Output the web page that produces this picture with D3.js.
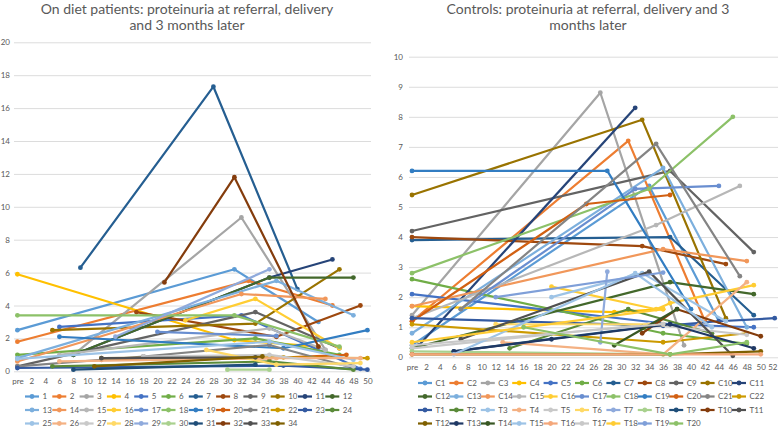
<!DOCTYPE html>
<html><head><meta charset="utf-8">
<script src="https://cdn.jsdelivr.net/npm/d3@7"></script>
<style>
html,body{margin:0;padding:0;background:#fff}
svg{display:block}
text{font-family:Lato,"Open Sans",sans-serif;fill:#595959}
</style></head><body>
<svg id="c" width="778" height="428"></svg>
<script>
const palette = ["#5B9BD5","#ED7D31","#A5A5A5","#FFC000","#4472C4","#70AD47","#255E91","#9E480E","#636363","#997300","#264478","#43682B","#7CAFDD","#F1975A","#B7B7B7","#FFCD33","#698ED0","#8CC168","#327DC2","#D26012","#848484","#CC9A00","#335AA1","#5A8A39","#9DC3E6","#F4B183","#C9C9C9","#FFD966","#8FAADC","#A9D18E","#1F4E79","#843C0C","#505050","#7F6000","#1F3864","#385723","#9DC3E6","#F4A77A","#C8C8C8","#FFCC33","#7F9FD8","#8CC168"];

const titleLeft = ["On diet patients: proteinuria at referral, delivery","and 3 months later"];
const titleRight = ["Controls: proteinuria at referral, delivery and 3","months later"];

const namesLeft = d3.range(1,35).map(String);
const weeksLeftTicks = ["pre",2,4,6,8,10,12,14,16,18,20,22,24,26,28,30,32,34,36,38,40,42,44,46,48,50];
const yTicksLeft = [0,2,4,6,8,10,12,14,16,18,20];

const p1=[[0,2.5],[31,6.2],[43,3.0]];
const p2=[[0,1.8],[33,5.5],[45,4.0]];
const p3=[[8,1.0],[32,9.35],[44,1.3]];
const p4=[[0,5.9],[31,1.9],[43,1.5]];
const p5=[[6,2.7],[32,3.4],[49,0.15]];
const p6=[[0,1.0],[34,2.0],[46,1.0]];
const p7=[[9,6.3],[28,17.3],[40,5.0]];
const p8=[[17,3.6],[37,2.1],[49,4.0]];
const p9=[[0,0.3],[34,3.6],[46,1.4]];
const p10=[[5,2.5],[34,2.9],[46,6.2]];
const p11=[[8,1.0],[36,5.7],[45,6.8]];
const p12=[[8,1.0],[36,5.7],[48,5.7]];
const p13=[[0,0.8],[37,5.5],[48,3.4]];
const p14=[[0,0.6],[32,4.7],[44,4.4]];
const p15=[[6,1.0],[36,2.6],[44,1.3]];
const p16=[[24,3.1],[34,4.4],[46,1.4]];
const p17=[[20,2.4],[37,2.15]];
const p18=[[0,3.4],[31,3.4],[46,1.5]];
const p19=[[6,2.1],[38,1.4],[50,2.5]];
const p20=[[12,0.7],[36,0.8],[47,1.0]];
const p21=[[0,0.3],[18,0.9],[36,1.6],[48,0.2]];
const p22=[[12,0.8],[38,0.85],[50,0.8]];
const p23=[[0,0.2],[38,0.35],[50,0.1]];
const p24=[[5,0.3],[36,0.6],[48,0.1]];
const p25=[[0,0.75],[36,1.8],[48,0.7]];
const p26=[[6,0.6],[37,0.8],[49,0.8]];
const p27=[[18,0.9],[36,1.0],[48,0.3]];
const p28=[[27,1.3],[37,0.4],[49,0.5]];
const p29=[[14,2.1],[36,6.2]];
const p30=[[30,0.1],[36,0.1]];
const p31=[[8,0.1],[34,0.4]];
const p32=[[21,5.4],[31,11.8],[43,1.5]];
const p33=[[12,0.8],[34,0.85]];
const p34=[[11,0.3],[35,0.9]];
const valuesLeft=[p1,p2,p3,p4,p5,p6,p7,p8,p9,p10,p11,p12,p13,p14,p15,p16,p17,p18,p19,p20,p21,p22,p23,p24,p25,p26,p27,p28,p29,p30,p31,p32,p33,p34];

const namesRight = [...d3.range(1,23).map(i=>"C"+i),...d3.range(1,21).map(i=>"T"+i)];
const weeksRightTicks = ["pre",2,4,6,8,10,12,14,16,18,20,22,24,26,28,30,32,34,36,38,40,42,44,46,48,50,52];
const yTicksRight = [0,1,2,3,4,5,6,7,8,9,10];

const c1=[[0,0.4],[34,5.7],[44,1.2]];
const c2=[[0,1.2],[31,7.2],[42,1.2]];
const c3=[[0,1.4],[27,8.8],[39,0.4]];
const c4=[[0,1.7],[29,1.5],[36,1.6]];
const c5=[[0,2.1],[37,1.1],[49,1.0]];
const c6=[[0,2.6],[36,0.8],[48,0.45]];
const c7=[[0,3.9],[37,4.0],[49,1.4]];
const c8=[[0,4.0],[33,3.7],[45,3.1]];
const c9=[[0,4.2],[37,6.2],[49,3.5]];
const c10=[[0,5.4],[33,7.9],[45,1.3]];
const c11=[[1,0.4],[32,8.3]];
const c12=[[0,0.3],[37,2.5],[49,2.1]];
const c13=[[0,0.8],[36,6.3],[48,1.0]];
const c14=[[0,1.7],[36,3.6],[48,3.2]];
const c15=[[0,1.3],[35,4.4],[47,5.7]];
const c16=[[20,2.35],[35,1.6],[37,1.8],[49,2.4]];
const c17=[[7,1.6],[32,5.6],[44,5.7]];
const c18=[[0,2.8],[34,5.6],[46,8.0]];
const c19=[[0,6.2],[28,6.2],[40,1.6]];
const c20=[[0,1.2],[25,5.1],[37,5.4]];
const c21=[[7,1.6],[35,7.1],[47,2.7]];
const c22=[[0,1.1],[36,0.5],[48,0.8]];
const t1=[[0,1.3],[36,1.05],[44,1.2],[52,1.3]];
const t2=[[14,0.3],[31,1.6],[43,0.8]];
const t3=[[20,2.0],[33,2.8],[45,1.2]];
const t4=[[13,0.5],[36,0.1],[48,2.5]];
const t5=[[0,0.3],[34,1.1],[48,0.75]];
const t6=[[12,1.1],[36,1.1]];
const t7=[[27,0.5],[28,2.85]];
const t8=[[0,0.2],[36,0.1]];
const t9=[[6,0.2],[33,1.0]];
const t10=[[33,0.8],[38,1.6],[50,0.7]];
const t11=[[7,0.6],[34,2.85],[46,0.05]];
const t12=[[0,0.1],[37,0.1],[50,0.2]];
const t13=[[6,0.2],[20,0.6],[37,1.1],[49,0.3]];
const t14=[[29,0.4],[38,1.6]];
const t15=[[6,0.1],[32,2.8],[43,1.0]];
const t16=[[0,0.1],[50,0.1]];
const t17=[[0,0.4],[36,1.1]];
const t18=[[0,0.5],[36,1.6]];
const t19=[[12,2.0],[36,2.82]];
const t20=[[16,1.0],[37,0.1],[48,0.5]];
const valuesRight=[c1,c2,c3,c4,c5,c6,c7,c8,c9,c10,c11,c12,c13,c14,c15,c16,c17,c18,c19,c20,c21,c22,t1,t2,t3,t4,t5,t6,t7,t8,t9,t10,t11,t12,t13,t14,t15,t16,t17,t18,t19,t20];

const svg = d3.select("#c");

function panel(o){
  const g = svg.append("g");
  const x = d3.scaleLinear().domain([0,o.xMax]).range([o.x0,o.x1]);
  const y = d3.scaleLinear().domain([0,o.yMax]).range([o.y0,o.y1]);

  const yAxis = g.append("g").attr("transform",`translate(${o.gridL},0)`)
    .call(d3.axisLeft(y).tickValues(o.yTicks).tickSize(o.gridL-o.gridR).tickPadding(3).tickFormat(d=>d));
  yAxis.select(".domain").remove();
  yAxis.selectAll("line").attr("stroke","#dcdcdc").attr("stroke-width",1);
  yAxis.selectAll("text").attr("font-size",8).attr("x",o.labelX-o.gridL).attr("text-anchor","end");

  const xAxis = g.append("g").attr("transform",`translate(0,${o.y0})`)
    .call(d3.axisBottom(x).tickValues(o.xTicks.map((d,i)=>i*2)).tickSize(0).tickPadding(o.xPad).tickFormat((d,i)=>o.xTicks[i]));
  xAxis.select(".domain").remove();
  xAxis.selectAll("text").attr("font-size",8);
  if(o.lastLabelRight) xAxis.selectAll("text").filter((d,i)=>i===o.xTicks.length-1).attr("text-anchor","end").attr("x",o.lastLabelRight-o.x1);

  const line = d3.line().x(d=>x(d[0])).y(d=>y(d[1]));
  o.values.forEach((v,i)=>{
    const c = palette[i];
    g.append("path").attr("d",line(v)).attr("fill","none").attr("stroke",c).attr("stroke-width",2.2).attr("stroke-linejoin","round");
    g.selectAll(null).data(v).join("circle").attr("cx",d=>x(d[0])).attr("cy",d=>y(d[1])).attr("r",2.4).attr("fill",c);
  });

  o.title.forEach((t,i)=>g.append("text").attr("x",o.titleX).attr("y",14+i*15.5).attr("text-anchor","middle").attr("font-size",o.titleSize).text(t));

  const leg = g.append("g");
  o.names.forEach((n,i)=>{
    const row = Math.floor(i/o.perRow), col = i%o.perRow;
    const lx = o.legX + col*o.legStep, ly = o.legY + row*13.5;
    leg.append("line").attr("x1",lx).attr("x2",lx+14).attr("y1",ly).attr("y2",ly).attr("stroke",palette[i]).attr("stroke-width",2.2);
    leg.append("circle").attr("cx",lx+7).attr("cy",ly).attr("r",2.4).attr("fill",palette[i]);
    leg.append("text").attr("x",lx+17.5).attr("y",ly+2.8).attr("font-size",8).text(n);
  });
}

panel({x0:17.4,x1:367.4,y0:371.3,y1:42.3,xMax:50,yMax:20,gridL:14,gridR:371,labelX:10,yTicks:yTicksLeft,xTicks:weeksLeftTicks,xPad:7,
  values:valuesLeft,names:namesLeft,title:titleLeft,titleX:187,titleSize:14,perRow:12,legX:25,legStep:27.3,legY:396.5});
panel({x0:412,x1:774.7,y0:357.3,y1:56.7,xMax:52,yMax:10,gridL:409,gridR:778,labelX:403,yTicks:yTicksRight,xTicks:weeksRightTicks,xPad:7,lastLabelRight:777,
  values:valuesRight,names:namesRight,title:titleRight,titleX:588,titleSize:14,perRow:11,legX:418,legStep:31.4,legY:383});
</script>
</body></html>
